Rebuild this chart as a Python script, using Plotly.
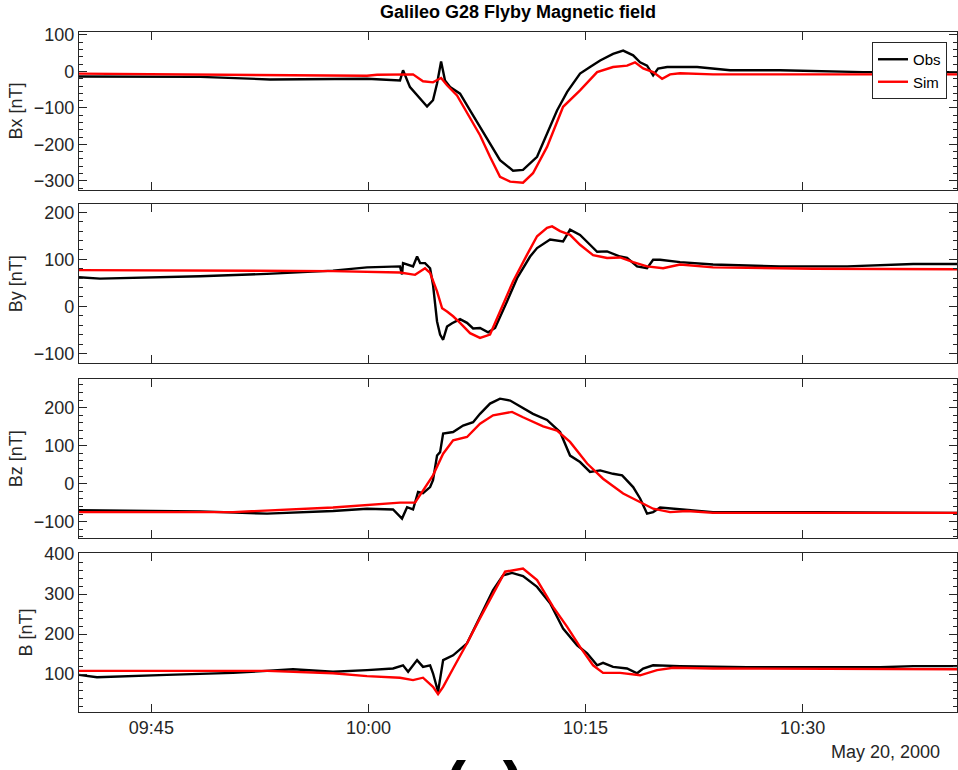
import pandas as pd
import plotly.graph_objects as go
from plotly.subplots import make_subplots

# ---- data (minutes after 09:40 UT, values in nT) ----
bx_obs_t = [0, 8.4, 13.2, 15.3, 19.9, 22.18, 22.39, 22.87, 23.57, 24.05, 24.46, 24.74, 25.02, 25.29, 25.64, 26.33,
            27.02, 27.71, 28.4, 29.09, 29.99, 30.68, 31.65, 32.34, 33.03, 33.73, 34.62, 35.31, 36.01, 36.9, 37.6,
            38.29, 38.77, 39.25, 39.67, 40.01, 40.64, 42.71, 44.99, 48.44, 50.73, 54.18, 60.75]
bx_obs = [-14, -15, -22, -22, -20, -25, 3, -43, -75, -96, -79, -33, 27, -25, -43, -61,
          -107, -152, -197, -243, -272, -270, -234, -170, -107, -56, -6, 12, 30, 48, 57,
          44, 25, 16, -11, 8, 12, 12, 3, 3, 1, -2, -2]
bx_sim_t = [0, 10, 19.9, 20.6, 23.08, 23.77, 24.46, 25.02, 25.43, 26.12, 26.81, 27.71, 28.4, 29.09, 29.79, 30.68,
            31.37, 32.34, 33.45, 34.62, 35.8, 36.9, 37.87, 38.42, 38.98, 39.67, 40.29, 40.84, 41.53, 43.81, 60.75]
bx_sim = [-6, -8, -12, -9, -8, -27, -30, -18, -38, -66, -115, -175, -234, -289, -302, -305,
          -279, -207, -97, -52, -2, 12, 16, 25, 8, -2, -20, -8, -5, -8, -8]

by_obs_t = [0, 1.45, 8.36, 12.99, 17.55, 19.9, 22.18, 22.32, 22.39, 23.08, 23.36, 23.57, 23.91, 24.26, 24.46, 24.74,
            24.95, 25.16, 25.43, 25.78, 26.33, 26.81, 27.23, 27.71, 28.27, 28.75, 29.58, 30.27, 31.17, 31.65, 32.55,
            33.45, 33.93, 34.62, 35.31, 35.8, 36.49, 37.39, 37.87, 38.56, 39.25, 39.67, 40.15, 41.53, 43.81, 48.44,
            53.08, 57.64, 60.75]
by_obs = [62, 59, 64, 69, 76, 83, 85, 68, 92, 85, 106, 92, 92, 81, 46, -32,
          -60, -71, -43, -36, -27, -35, -47, -46, -55, -46, 11, 60, 106, 124, 142,
          138, 163, 152, 131, 116, 117, 106, 103, 85, 81, 99, 99, 94, 89, 85,
          85, 90, 90]
by_sim_t = [0, 17.55, 22.18, 23.22, 23.91, 24.26, 24.74, 25.09, 25.43, 25.85, 26.33, 27.02, 27.71, 28.4, 29.09, 29.99,
            30.96, 31.65, 32.34, 32.69, 33.24, 33.93, 34.62, 35.52, 36.49, 37.39, 38.29, 39.25, 40.36, 41.53, 43.81,
            50.73, 60.75]
by_sim = [77, 75, 72, 67, 81, 71, 32, -4, -11, -21, -35, -57, -67, -60, -11, 53,
          110, 149, 167, 170, 160, 152, 131, 109, 103, 104, 94, 85, 81, 89, 83,
          80, 79]

bz_obs_t = [0, 8.36, 12.99, 17.55, 19.9, 21.7, 22.32, 22.67, 23.08, 23.43, 23.77, 24.26, 24.46, 24.74, 24.95, 25.16,
            25.85, 26.54, 27.23, 27.71, 28.4, 29.09, 29.79, 30.48, 31.37, 32.34, 33.24, 33.93, 34.62, 35.31, 36.01,
            36.9, 37.53, 38.29, 38.77, 39.25, 39.67, 40.15, 43.81, 50.73, 60.75]
bz_obs = [-70, -73, -79, -72, -66, -68, -92, -62, -68, -22, -25, -9, 9, 74, 83, 132,
          136, 153, 162, 184, 211, 224, 219, 203, 184, 168, 136, 74, 57, 31, 35,
          26, 22, -9, -39, -79, -75, -63, -75, -75, -77]
bz_sim_t = [0, 10.64, 17.55, 22.18, 23.22, 23.77, 24.46, 25.16, 25.85, 26.81, 27.71, 28.61, 29.92, 30.68, 32.07,
            33.03, 33.93, 35.11, 36.21, 37.6, 38.56, 39.67, 40.84, 42.02, 43.81, 60.75]
bz_sim = [-75, -75, -63, -50, -50, -18, 22, 79, 114, 123, 158, 180, 189, 175, 151,
          140, 110, 53, 13, -26, -44, -66, -75, -72, -77, -77]

b_obs_t = [0, 1.24, 6.08, 10.64, 14.79, 17.55, 19.9, 21.7, 22.39, 22.74, 23.36, 23.77, 24.26, 24.46, 24.81, 25.16,
           25.85, 26.81, 27.71, 28.61, 29.3, 29.92, 30.68, 31.65, 32.55, 33.45, 34.42, 35.11, 35.8, 36.21, 36.9,
           37.87, 38.56, 38.98, 39.67, 41.53, 46.16, 55.36, 57.64, 60.75]
b_obs = [98, 92, 98, 103, 112, 106, 110, 114, 122, 106, 135, 118, 122, 102, 56, 135,
         147, 177, 243, 310, 347, 353, 345, 318, 277, 214, 172, 152, 122, 128, 118,
         114, 102, 114, 122, 120, 117, 117, 120, 120]
b_sim_t = [0, 12.99, 17.55, 19.9, 22.18, 23.08, 23.77, 24.46, 24.81, 25.16, 25.85, 26.81, 27.71, 28.61, 29.44,
           30.68, 31.65, 32.76, 33.73, 34.62, 35.52, 36.21, 37.39, 38.77, 39.94, 41.05, 43.81, 60.75]
b_sim = [108, 108, 102, 95, 91, 85, 91, 68, 50, 68, 114, 177, 240, 302, 356,
         364, 335, 268, 218, 168, 122, 103, 103, 97, 110, 116, 114, 112]

panel_labels = ["Bx [nT]", "By [nT]", "Bz [nT]", "B [nT]"]
panel_ranges = [[-325, 108], [-121, 217], [-144, 275], [6, 402]]
panel_ticks = [[-300, -200, -100, 0, 100], [-100, 0, 100, 200], [-100, 0, 100, 200], [100, 200, 300, 400]]
time_ticks = ["2000-05-20 09:45", "2000-05-20 10:00", "2000-05-20 10:15", "2000-05-20 10:30"]
time_range = ["2000-05-20 09:40:00", "2000-05-20 10:40:40"]

base = pd.Timestamp("2000-05-20 09:40:00")


def tm(mins):
    return base + pd.to_timedelta(mins, unit="m")


series = [
    (bx_obs_t, bx_obs, bx_sim_t, bx_sim),
    (by_obs_t, by_obs, by_sim_t, by_sim),
    (bz_obs_t, bz_obs, bz_sim_t, bz_sim),
    (b_obs_t, b_obs, b_sim_t, b_sim),
]

W, H = 958, 770
fig = make_subplots(rows=4, cols=1, shared_xaxes=True)

axcol = "#262626"
font = "Liberation Sans, Arial, Helvetica, sans-serif"
fs = 18

for i, (ot, ov, st, sv) in enumerate(series):
    r = i + 1
    fig.add_trace(go.Scatter(x=tm(ot), y=ov, mode="lines", name="Obs",
                             line=dict(color="black", width=2.4), showlegend=(i == 0)), row=r, col=1)
    fig.add_trace(go.Scatter(x=tm(st), y=sv, mode="lines", name="Sim",
                             line=dict(color="#ff0000", width=2.4), showlegend=(i == 0)), row=r, col=1)

# pixel domains
ydom_px = [(32, 190), (204.3, 363.3), (379.3, 538.3), (553.3, 711.7)]
xdom = [79 / W, 957 / W]

for i in range(4):
    r = i + 1
    top, bot = ydom_px[i]
    fig.update_yaxes(row=r, col=1,
                     domain=[1 - bot / H, 1 - top / H],
                     range=panel_ranges[i], tickvals=panel_ticks[i],
                     ticks="inside", ticklen=8, tickwidth=1, tickcolor=axcol,
                     minor=dict(ticks="inside", ticklen=4, dtick=20, tickcolor=axcol, showgrid=False),
                     showline=True, linecolor=axcol, linewidth=1.2, mirror="allticks",
                     showgrid=False, zeroline=False,
                     tickfont=dict(size=fs, color=axcol, family=font),
                     title=dict(text=panel_labels[i], font=dict(size=fs, color=axcol, family=font), standoff=6),
                     automargin=False)
    fig.update_xaxes(row=r, col=1, domain=xdom, type="date", range=time_range,
                     tickvals=time_ticks, tickformat="%H:%M",
                     ticks="inside", ticklen=8, tickwidth=1, tickcolor=axcol,
                     showline=True, linecolor=axcol, linewidth=1.2, mirror="allticks",
                     showgrid=False, zeroline=False, showticklabels=(r == 4),
                     tickfont=dict(size=fs, color=axcol, family=font),
                     automargin=False)

fig.update_layout(
    width=W, height=H,
    margin=dict(l=0, r=0, t=0, b=0),
    paper_bgcolor="white", plot_bgcolor="white",
    font=dict(family=font, color=axcol),
    title=dict(text="<b>Galileo G28 Flyby Magnetic field</b>", x=518 / W, xanchor="center",
               y=1 - 12 / H, yanchor="middle", font=dict(size=fs, color="black", family=font)),
    legend=dict(x=947 / W, xanchor="right", y=1 - 42 / H, yanchor="top",
                bordercolor=axcol, borderwidth=1, bgcolor="white",
                font=dict(size=15, color="black", family=font),
                tracegroupgap=0, itemwidth=30),
    showlegend=True,
)

fig.add_annotation(text="May 20, 2000", xref="paper", yref="paper", x=942 / W, y=1 - 752 / H,
                   xanchor="right", yanchor="middle", showarrow=False,
                   font=dict(size=fs, color=axcol, family=font))
fig.add_annotation(text="<b>(a)</b>", xref="paper", yref="paper", x=485 / W, y=1 - 746 / H,
                   xanchor="center", yanchor="top", showarrow=False,
                   font=dict(size=66, color="black", family=font))

fig.write_html("out.html")
